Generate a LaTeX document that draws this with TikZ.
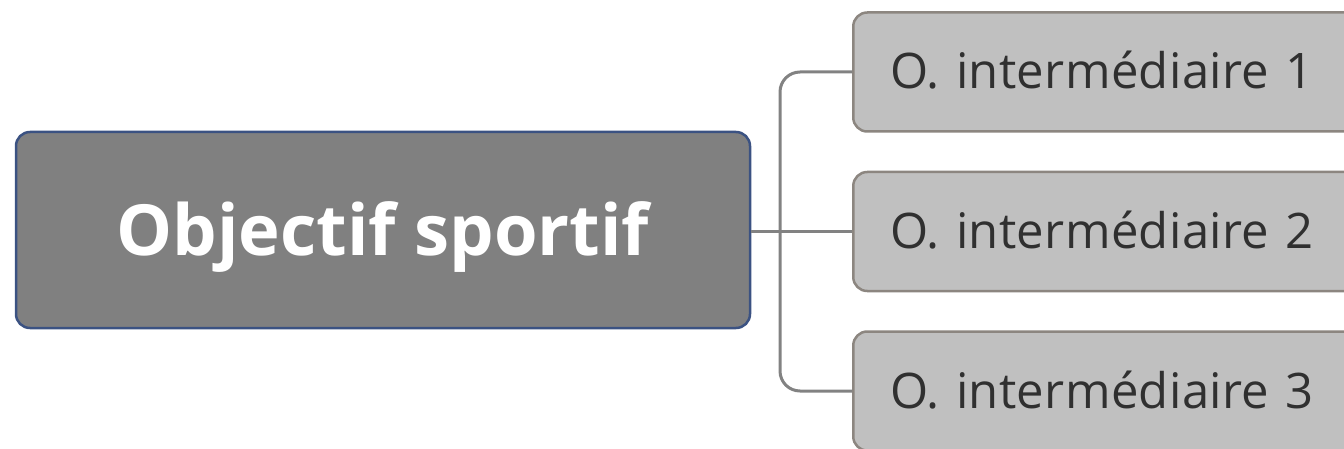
\documentclass[tikz,border=0pt]{standalone}
\usepackage{fontspec}
\setmainfont{Open Sans}
\newfontfamily\subfont[LetterSpace=0.7]{Open Sans}
\definecolor{rootfill}{HTML}{808080}
\definecolor{rootline}{HTML}{3B5282}
\definecolor{subfill}{HTML}{C0C0C0}
\definecolor{subline}{HTML}{8C8680}
\definecolor{linkcol}{HTML}{828282}
\definecolor{subtext}{HTML}{303030}
\tikzset{
  rootbox/.style={draw=rootline, fill=rootfill, line width=2.5pt, rounded corners=14pt,
    minimum width=734pt, minimum height=196pt, text=white,
    font=\fontsize{70.5}{80}\selectfont\bfseries, text height=50pt, text depth=0pt},
  subbox/.style={draw=subline, fill=subfill, line width=2.5pt, rounded corners=14pt,
    anchor=west, minimum height=119pt, text width=440pt, align=left, inner xsep=37pt,
    text=subtext, font=\subfont\fontsize{49}{56}\selectfont, text height=34pt, text depth=0pt},
  link/.style={draw=linkcol, line width=3pt},
}
\begin{document}
\begin{tikzpicture}[x=1pt,y=-1pt]
\useasboundingbox (0,0) rectangle (1344,449);
\clip (0,0) rectangle (1344,449);
\node[rootbox] (root) at (383,230) {Objectif sportif};
\node[subbox] (s1) at (852,72) {O. intermédiaire 1};
\node[subbox] (s2) at (852,231.5) {O. intermédiaire 2};
\node[subbox] (s3) at (852,391) {O. intermédiaire 3};
\coordinate (bus) at (780,231.5);
% branch connectors
\draw[link] (root.east |- s2.west) -- (s2.west);
\draw[link, rounded corners=20pt] (s1.west) -- (bus |- s1.west) -- (bus |- s3.west) -- (s3.west);
\end{tikzpicture}
\end{document}
